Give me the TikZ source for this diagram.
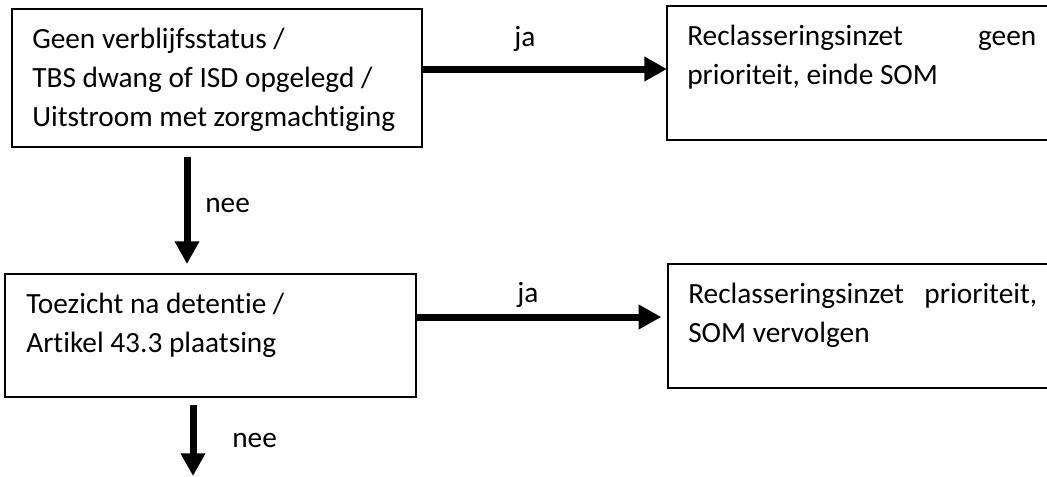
\documentclass[tikz,border=0pt]{standalone}
\usepackage{fontspec}
\setmainfont{Carlito}[Ligatures=NoCommon]
\usetikzlibrary{arrows.meta,fit}
\tikzset{
	kader/.style={draw, line width=1.1pt, inner sep=0pt, outer sep=0pt},
	pijl/.style={line width=5.25pt, -{Triangle[length=17pt,width=17.5pt]}},
	tekst/.style={anchor=base west, inner sep=0pt, font=\fontsize{22}{29.25}\selectfont},
	lbl/.style={inner sep=0pt, font=\fontsize{22}{29.25}\selectfont}
}
\begin{document}
\begin{tikzpicture}[x=0.75pt,y=-0.75pt]
				\useasboundingbox (0,0) rectangle (1047,476);
				% kaders
				\node[kader, fit={(12,9) (422,147)}] (q1) {};
				\node[kader, fit={(667,6) (1060,140)}] (r1) {};
				\node[kader, fit={(5,274) (416,397)}] (q2) {};
				\node[kader, fit={(668,264) (1060,388)}] (r2) {};
				\node[tekst] (t1) at (32,48) {\parbox[t]{300pt}{Geen verblijfsstatus /\\TBS dwang of ISD opgelegd /\\Uitstroom met zorgmachtiging}};
				\node[tekst] (t2) at (687,45) {\parbox[t]{261.75pt}{Reclasseringsinzet\hfill geen\\prioriteit, einde SOM}};
				\node[tekst] (t3) at (26,313) {\parbox[t]{300pt}{Toezicht na detentie /\\Artikel 43.3 plaatsing}};
				\node[tekst] (t4) at (688,303) {\parbox[t]{261.75pt}{Reclasseringsinzet\hfill prioriteit,\\SOM vervolgen}};
				% pijlen
				\coordinate (h1) at (0,69);
				\coordinate (h2) at (0,317);
				\coordinate (v1) at (187,0);
				\coordinate (einde) at (193,476);
				\draw[pijl] (q1.east |- h1) -- (r1.west |- h1);
				\draw[pijl, shorten >=5pt] (q2.east |- h2) -- (r2.west |- h2);
				\draw[pijl, shorten <=7.5pt, shorten >=7.5pt] (q1.south -| v1) -- (q2.north -| v1);
				\draw[pijl, shorten <=6pt] (q2.south -| einde) -- (einde);
				\node[lbl, anchor=base] (ja1) at (525,46) {ja};
				\node[lbl, anchor=base] (ja2) at (528,302) {ja};
				\node[lbl, anchor=base west] (nee1) at (205,212) {nee};
				\node[lbl, anchor=base west] (nee2) at (232,447) {nee};
			\end{tikzpicture}
\end{document}
